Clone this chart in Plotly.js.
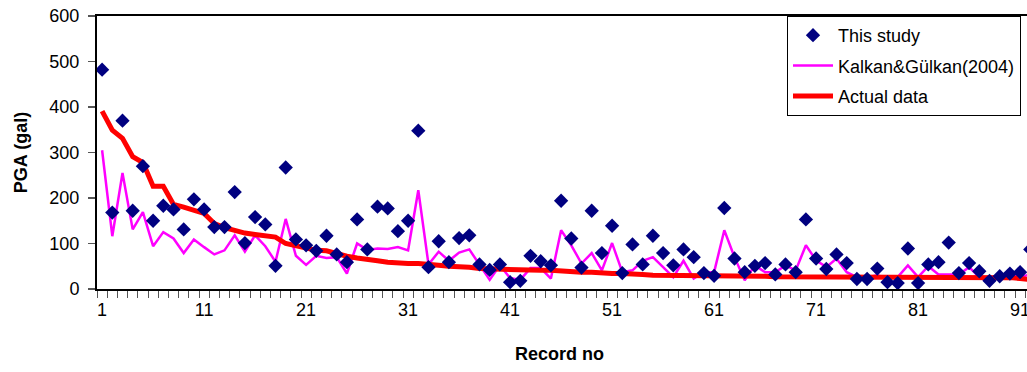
<!DOCTYPE html>
<html>
<head>
<meta charset="utf-8">
<script src="https://cdn.plot.ly/plotly-3.0.1.min.js"></script>
<style>
  html, body { margin: 0; padding: 0; overflow: hidden; background: #ffffff; }
  #chart { width: 1045px; height: 372px; }
</style>
</head>
<body>
<div id="chart"></div>
<script>
// Record numbers (categories)
const recordNo = [
  1, 2, 3, 4, 5, 6, 7, 8, 9, 10, 11, 12, 13, 14, 15, 16, 17, 18, 19, 20,
  21, 22, 23, 24, 25, 26, 27, 28, 29, 30, 31, 32, 33, 34, 35, 36, 37, 38, 39, 40,
  41, 42, 43, 44, 45, 46, 47, 48, 49, 50, 51, 52, 53, 54, 55, 56, 57, 58, 59, 60,
  61, 62, 63, 64, 65, 66, 67, 68, 69, 70, 71, 72, 73, 74, 75, 76, 77, 78, 79, 80,
  81, 82, 83, 84, 85, 86, 87, 88, 89, 90, 91, 92
];

// PGA (gal) predicted in this study
const thisStudy = [
  482, 168, 370, 172, 270, 150, 183, 175, 131, 197, 175, 136, 136, 213, 101, 158, 142, 51, 267, 109,
  96, 84, 117, 76, 59, 153, 87, 181, 177, 127, 150, 348, 48, 105, 59, 112, 118, 54, 42, 54,
  15, 18, 73, 61, 52, 194, 111, 47, 172, 79, 139, 35, 98, 54, 117, 79, 52, 87, 70, 35,
  29, 178, 67, 37, 51, 57, 32, 54, 37, 153, 67, 44, 76, 57, 22, 22, 45, 15, 13, 89,
  13, 54, 59, 102, 35, 57, 39, 18, 28, 34, 37, 87
];

// PGA (gal) from the Kalkan & Gülkan (2004) relation
const kalkanGulkan = [
  305, 116, 255, 131, 169, 94, 125, 111, 79, 109, 92, 76, 85, 118, 82, 118, 94, 60, 154, 73,
  53, 73, 68, 70, 34, 100, 86, 89, 88, 92, 85, 217, 54, 82, 62, 80, 87, 52, 20, 52,
  24, 20, 46, 46, 23, 129, 96, 56, 79, 41, 101, 37, 41, 62, 70, 48, 26, 62, 23, 37,
  37, 129, 70, 19, 52, 37, 37, 52, 41, 96, 63, 48, 67, 37, 26, 26, 30, 23, 26, 52,
  26, 50, 32, 32, 32, 48, 26, 15, 26, 34, 26, 32
];

// Recorded PGA (gal)
const actualData = [
  391, 349, 331, 291, 278, 226, 226, 186, 180, 172, 166, 144, 135, 129, 123, 120, 116, 114, 100, 95,
  91, 85, 84, 77, 72, 68, 64, 62, 59, 57, 56, 56, 53, 52, 50, 50, 48, 45, 44, 43,
  43, 42, 41, 41, 41, 39, 37, 37, 37, 35, 34, 34, 34, 32, 30, 30, 30, 30, 29, 29,
  29, 28, 28, 28, 28, 28, 27, 27, 26, 26, 26, 26, 26, 26, 26, 26, 26, 26, 26, 26,
  26, 26, 26, 26, 26, 26, 26, 26, 26, 25, 23, 21
];

// Labelled record numbers on the category axis
const xTickLabels = [1, 11, 21, 31, 41, 51, 61, 71, 81, 91];
const yTickLabels = [0, 100, 200, 300, 400, 500, 600];

const FONT = 'Liberation Sans, Arial, Helvetica, sans-serif';

const traces = [
  {
    x: recordNo, y: kalkanGulkan, name: 'Kalkan&Gülkan(2004)',
    type: 'scatter', mode: 'lines', legendrank: 2, legendgroup: 'kg',
    line: { color: '#FF00FF', width: 2.5 }
  },
  {
    x: recordNo, y: actualData, name: 'Actual data',
    type: 'scatter', mode: 'lines', legendrank: 3, legendgroup: 'act',
    line: { color: '#FF0000', width: 5 }
  },
  {
    x: recordNo, y: thisStudy, name: 'This study',
    type: 'scatter', mode: 'markers', legendrank: 1, legendgroup: 'study',
    marker: { symbol: 'diamond', size: 11, color: '#000080', line: { width: 0 } }
  }
];

// The frame runs a little past the right edge of the page, so the last record is cut off there
const PLOT_L = 97, PLOT_R = 1045, PLOT_T = 16, PLOT_B = 288.7;
const paperX = px => (px - PLOT_L) / (PLOT_R - PLOT_L);
const paperY = py => (PLOT_B - py) / (PLOT_B - PLOT_T);

const layout = {
  width: 1045, height: 372,
  margin: { l: PLOT_L, r: 0, t: PLOT_T, b: 372 - PLOT_B, pad: 0 },
  paper_bgcolor: '#ffffff', plot_bgcolor: '#ffffff',
  font: { family: FONT, size: 18, color: '#000000' },
  showlegend: true,
  legend: {
    x: paperX(787), y: paperY(16), xanchor: 'left', yanchor: 'top',
    bgcolor: '#ffffff', bordercolor: '#000000', borderwidth: 1,
    font: { family: FONT, size: 18, color: '#000000' },
    itemwidth: 40, traceorder: 'grouped', tracegroupgap: 4
  },
  xaxis: {
    range: [0.5, 0.5 + (PLOT_R - PLOT_L) / 10.2], autorange: false,
    tickmode: 'array', tickvals: xTickLabels, ticktext: xTickLabels.map(String),
    ticks: '', ticklabelstandoff: 3, ticklabeloverflow: 'allow',
    showgrid: false, zeroline: false,
    showline: true, linecolor: '#000000', linewidth: 2, mirror: true,
    minor: { tickmode: 'linear', tick0: 0.5, dtick: 1, ticks: 'outside', ticklen: 7, tickwidth: 1, tickcolor: '#555555', showgrid: false },
    tickfont: { family: FONT, size: 18 }
  },
  yaxis: {
    range: [0, 600], autorange: false,
    tickmode: 'array', tickvals: yTickLabels, ticktext: yTickLabels.map(String),
    ticks: 'outside', ticklen: 7, tickwidth: 1.5, tickcolor: '#555555', ticklabelstandoff: 5,
    showgrid: false, zeroline: false,
    showline: true, linecolor: '#000000', linewidth: 2,
    tickfont: { family: FONT, size: 18 },
    title: { text: '<b>PGA (gal)</b>', font: { family: FONT, size: 18 }, standoff: 17 }
  },
  annotations: [
    {
      text: '<b>Record no</b>', showarrow: false,
      xref: 'paper', yref: 'paper', x: paperX(559), y: paperY(354),
      xanchor: 'center', yanchor: 'middle',
      font: { family: FONT, size: 18, color: '#000000' }
    }
  ]
};

Plotly.newPlot('chart', traces, layout, { staticPlot: true, displayModeBar: false });
</script>
</body>
</html>
